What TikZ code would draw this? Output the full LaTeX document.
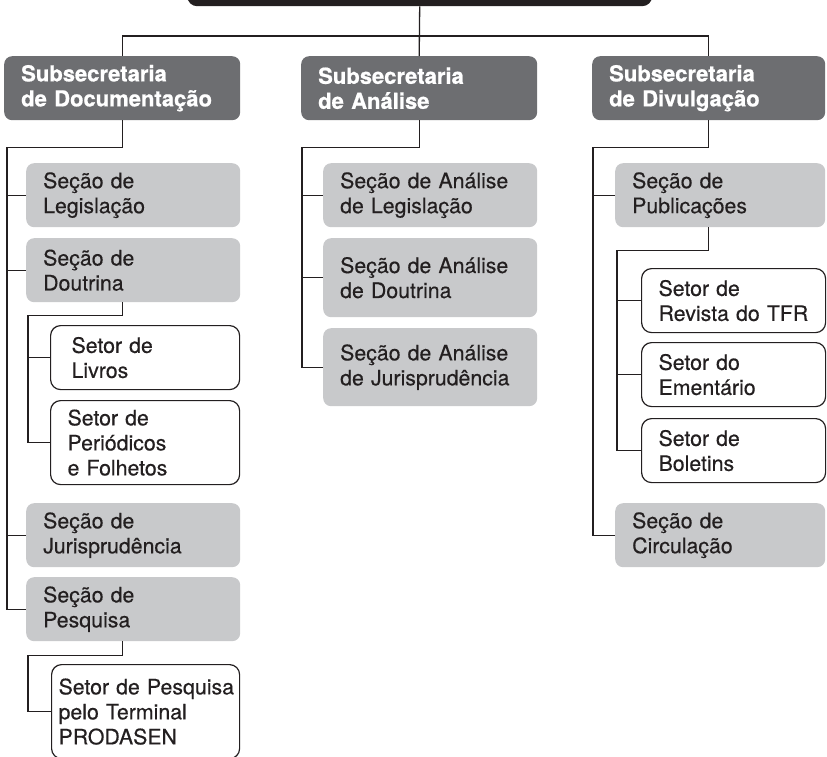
\documentclass[tikz,border=0pt]{standalone}
\usepackage{fontspec}
\setmainfont{TeX Gyre Heros}[UprightFeatures={FakeBold=0.35},BoldFeatures={FakeBold=0.8}]
\definecolor{escuro}{HTML}{6D6E71}
\definecolor{claro}{HTML}{C8C9CB}
\definecolor{preto}{HTML}{231F20}
\newcommand{\corpo}{\fontsize{21.3pt}{25pt}\selectfont}

\begin{document}
\begin{tikzpicture}[x=1pt,y=-1pt,
chefe/.style={fill=preto,rounded corners=10pt,anchor=north west,inner sep=0pt},
nivel/.style={fill=escuro,text=white,font=\fontsize{22pt}{25pt}\selectfont\bfseries,rounded corners=8pt,anchor=north west,
    inner xsep=17pt,inner ysep=0pt,minimum height=64pt,text width=202pt,align=left},
secao/.style={fill=claro,text=preto,font=\corpo,rounded corners=8pt,anchor=north west,
    inner xsep=17pt,inner ysep=0pt,minimum height=64pt,text width=180pt,align=left},
setor/.style={draw=preto,line width=1.2pt,fill=white,text=preto,font=\corpo,rounded corners=10pt,anchor=north west,
    inner xsep=17pt,inner ysep=0pt,minimum height=64pt,text width=150pt,align=left},
conn/.style={draw=preto,line width=1.3pt}]
\useasboundingbox (0,0) rectangle (827,757);
\clip (0,0) rectangle (827,757);

\node (topo) [chefe,minimum width=465pt,minimum height=46pt] at (187,-40) {};

\node (sd) [nivel] at (4,56) {Subsecretaria\\de~Documentação};
\node (sa) [nivel] at (301,56) {Subsecretaria\\de Análise};
\node (sv) [nivel,text width=199pt] at (592,56) {Subsecretaria\\de Divulgação};

\node (legis) [secao] at (26,163) {Seção de\\Legislação};
\node (dout) [secao] at (26,238) {Seção de\\Doutrina};
\node (livros) [setor,inner xsep=21pt,text width=147pt] at (50,325) {Setor de\\Livros};
\node (perio) [setor,text width=155pt,minimum height=84pt] at (50,400) {Setor de\\Periódicos\\e Folhetos};
\node (juris) [secao] at (26,503) {Seção de\\Jurisprudência};
\node (pesq) [secao] at (26,577) {Seção de\\Pesquisa};
\node (prodasen) [setor,inner xsep=7pt,text width=174pt,minimum height=94pt] at (51,664)
    {Setor~de~Pesquisa\\pelo Terminal\\PRODASEN};

\node (alegis) [secao] at (323,163) {Seção de Análise\\de Legislação};
\node (adout) [secao,minimum height=79pt] at (323,238) {Seção de Análise\\de Doutrina};
\node (ajuris) [secao,minimum height=78pt] at (323,328) {Seção de Análise\\de~Jurisprudência};

\node (publ) [secao,text width=176pt] at (615,163) {Seção de\\Publicações};
\node (revista) [setor] at (641,268) {Setor de\\Revista~do~TFR};
\node (ement) [setor] at (641,342) {Setor do\\Ementário};
\node (bolet) [setor] at (641,418) {Setor de\\Boletins};
\node (circ) [secao,text width=176pt] at (615,503) {Seção de\\Circulação};

\draw[conn] (topo.south) -- (sa.north);
\draw[conn] (sd.north) -- ++(0,-20) -| (sv.north);

\draw[conn] (sd.south) -- ++(0,27) -| ([xshift=-19pt]pesq.west) -- (pesq.west);
\foreach \n in {legis,dout,juris}
    \draw[conn] ([xshift=-19pt]\n.west) -- (\n.west);
\draw[conn] (sd.south |- dout.south) -- ++(0,13) -| ([xshift=-22pt]perio.west) -- (perio.west);
\draw[conn] ([xshift=-22pt]livros.west) -- (livros.west);
\draw[conn] (sd.south |- pesq.south) -- ++(0,14) -| ([xshift=-23pt]prodasen.west) -- (prodasen.west);

\draw[conn] (sa.south) -- ++(0,27) -| ([xshift=-21pt]ajuris.west) -- (ajuris.west);
\foreach \n in {alegis,adout}
    \draw[conn] ([xshift=-21pt]\n.west) -- (\n.west);

\draw[conn] (sv.south) -- ++(0,27) -| ([xshift=-22pt]circ.west) -- (circ.west);
\draw[conn] ([xshift=-22pt]publ.west) -- (publ.west);
\draw[conn] (sv.south |- publ.south) -- ++(0,23) -| ([xshift=-24pt]bolet.west) -- (bolet.west);
\foreach \n in {revista,ement}
    \draw[conn] ([xshift=-24pt]\n.west) -- (\n.west);
\end{tikzpicture}
\end{document}
